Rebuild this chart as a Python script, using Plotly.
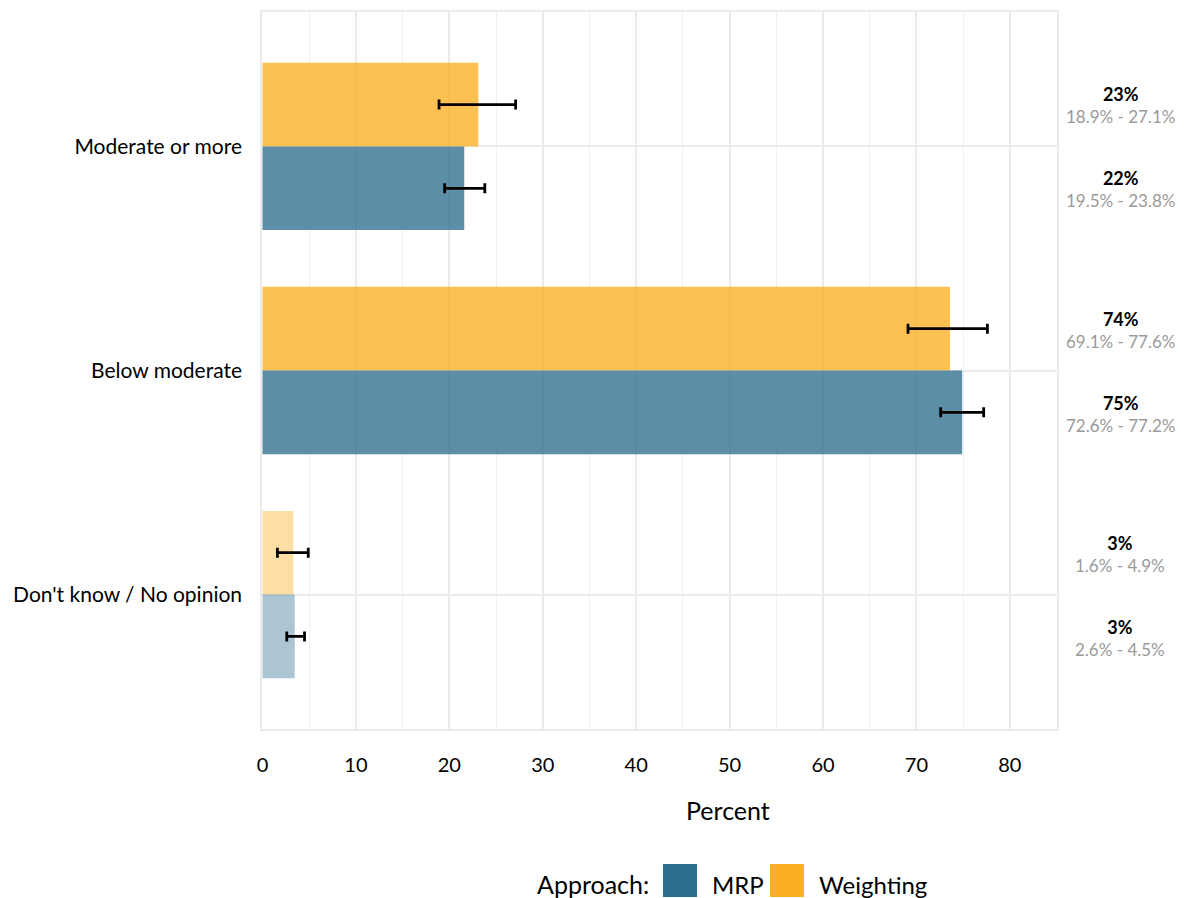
import plotly.graph_objects as go

categories = ["Moderate or more", "Below moderate", "Don't know / No opinion"]
weighting_vals = [23.1, 73.6, 3.3]
weighting_lo = [18.9, 69.1, 1.6]
weighting_hi = [27.1, 77.6, 4.9]
mrp_vals = [21.6, 74.9, 3.45]
mrp_lo = [19.5, 72.6, 2.6]
mrp_hi = [23.8, 77.2, 4.5]
x_ticks = [0, 10, 20, 30, 40, 50, 60, 70, 80]

FONT = "Lato, 'Open Sans', sans-serif"
MRP_RGB = (46, 110, 142)
W_RGB = (251, 176, 33)
alphas = [0.78, 0.78, 0.4]

def rgba(rgb, a):
    return f"rgba({rgb[0]},{rgb[1]},{rgb[2]},{a})"

fig = go.Figure()
fig.add_trace(go.Bar(
    name="Weighting", y=categories, x=weighting_vals, orientation="h",
    marker=dict(color=[rgba(W_RGB, a) for a in alphas], line=dict(width=0)),
    error_x=dict(type="data", symmetric=False,
                 array=[h - v for h, v in zip(weighting_hi, weighting_vals)],
                 arrayminus=[v - l for l, v in zip(weighting_lo, weighting_vals)],
                 color="black", thickness=2.8, width=5),
    showlegend=False,
))
fig.add_trace(go.Bar(
    name="MRP", y=categories, x=mrp_vals, orientation="h",
    marker=dict(color=[rgba(MRP_RGB, a) for a in alphas], line=dict(width=0)),
    error_x=dict(type="data", symmetric=False,
                 array=[h - v for h, v in zip(mrp_hi, mrp_vals)],
                 arrayminus=[v - l for l, v in zip(mrp_lo, mrp_vals)],
                 color="black", thickness=2.8, width=5),
    showlegend=False,
))

annotations = []
for shift, vals, los, his in [(41, weighting_vals, weighting_lo, weighting_hi),
                              (-43, mrp_vals, mrp_lo, mrp_hi)]:
    for cat, v, lo, hi in zip(categories, vals, los, his):
        annotations.append(dict(
            xref="paper", yref="y", x=1.0795, y=cat, yshift=shift, showarrow=False,
            xanchor="center", yanchor="middle", align="center",
            text=f"<b style='font-size:18px'>{round(v)}%</b><br><span style='color:#9a9a9a'>{lo}% - {hi}%</span>",
            font=dict(family=FONT, size=17, color="black"),
        ))

# page has an 8px body margin: figure coords = reference coords - 8
OFF = 8
L, R, T, B = 262 - OFF, 1057 - OFF, 12 - OFF, 729 - OFF
PW, PH = R - L, B - T
def px(x):
    return (x - OFF - L) / PW
def py(y):
    return (B - (y - OFF)) / PH

annotations += [
    dict(xref="paper", yref="paper", x=px(728), y=py(810), text="Percent",
         showarrow=False, xanchor="center", yanchor="middle",
         font=dict(family=FONT, size=25, color="black")),
    dict(xref="paper", yref="paper", x=px(651), y=py(884), text="Approach:",
         showarrow=False, xanchor="right", yanchor="middle",
         font=dict(family=FONT, size=25, color="black")),
    dict(xref="paper", yref="paper", x=px(710), y=py(884), text="MRP",
         showarrow=False, xanchor="left", yanchor="middle",
         font=dict(family=FONT, size=24, color="black")),
    dict(xref="paper", yref="paper", x=px(817), y=py(884), text="Weighting",
         showarrow=False, xanchor="left", yanchor="middle",
         font=dict(family=FONT, size=24, color="black")),
]
shapes = [
    dict(type="rect", xref="paper", yref="paper", x0=px(663), x1=px(697),
         y0=py(897), y1=py(864), fillcolor=rgba(MRP_RGB, 1), line=dict(width=0)),
    dict(type="rect", xref="paper", yref="paper", x0=px(770), x1=px(804),
         y0=py(897), y1=py(864), fillcolor=rgba(W_RGB, 1), line=dict(width=0)),
]

W, H = 1188 - OFF, 898 - OFF
fig.update_layout(
    width=W, height=H,
    margin=dict(l=L, r=W - R, t=T, b=H - B, autoexpand=False),
    paper_bgcolor="white", plot_bgcolor="white",
    barmode="group", bargap=0.253, bargroupgap=0,
    font=dict(family=FONT, size=20, color="black"),
    annotations=annotations, shapes=shapes,
    showlegend=False,
)
fig.update_xaxes(
    range=[-0.05, 85.05], autorange=False, tickvals=x_ticks, ticks="", showgrid=True,
    gridcolor="#ebebeb", gridwidth=1.5,
    minor=dict(dtick=5, showgrid=True, gridcolor="#f0f0f0", gridwidth=1),
    zeroline=False, showline=True, mirror=True, linecolor="#ebebeb", linewidth=1.5,
    tickfont=dict(family=FONT, size=20, color="black"), ticklabelstandoff=17,
)
fig.update_yaxes(
    categoryorder="array", categoryarray=categories, autorange=False,
    range=[2.6, -0.6], ticks="", showgrid=True, gridcolor="#ebebeb", gridwidth=1.5,
    showline=True, mirror=True, linecolor="#ebebeb", linewidth=1.5,
    tickfont=dict(family=FONT, size=21, color="black"), ticklabelstandoff=14,
)

fig.write_html("out.html")
